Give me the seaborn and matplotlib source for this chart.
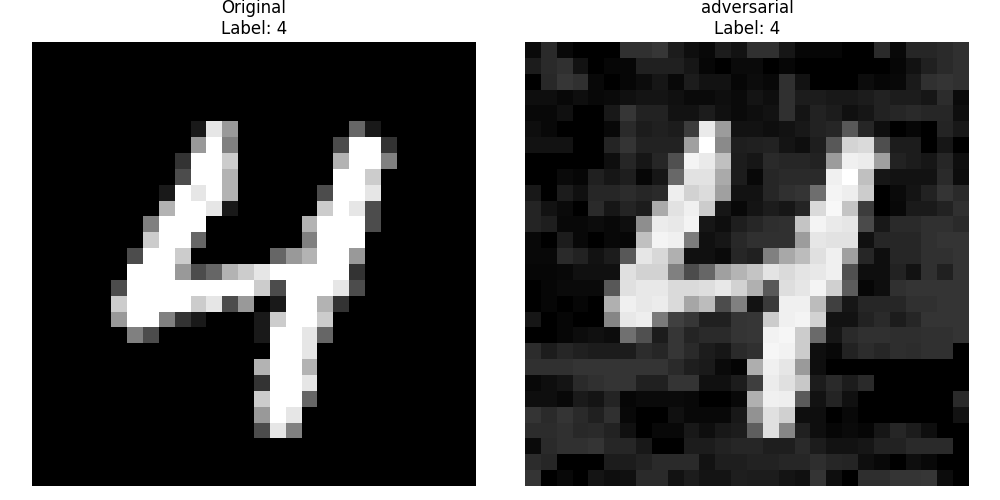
import numpy as np
import matplotlib
matplotlib.use("Agg")
import matplotlib.pyplot as plt
import seaborn as sns

# Original MNIST digit: one hex digit per pixel, intensity in tenths (a = 1.0)
original_rows = [
    "0000000000000000000000000000",
    "0000000000000000000000000000",
    "0000000000000000000000000000",
    "0000000000000000000000000000",
    "0000000000000000000000000000",
    "0000000000196000000041000000",
    "00000000006a50000003aa200000",
    "0000000002aa80000007aa500000",
    "0000000003aa7000000aa8000000",
    "000000001a9a7000003aa9000000",
    "000000007aa91000008a93000000",
    "00000005aaa0000007aaa3000000",
    "00000008aa40000005aaa0000000",
    "0000003aa800000467aa60000000",
    "000000aaa634789aaaaa20000000",
    "000003aaaaaaaa83aaa930000000",
    "000008aaaa893601aa7200000000",
    "000006aa52100018aa8000000000",
    "000000530000001aa94000000000",
    "000000000000000aa90000000000",
    "000000000000007aa70000000000",
    "000000000000002aa90000000000",
    "000000000000008aa40000000000",
    "000000000000006a900000000000",
    "0000000000000039500000000000",
    "0000000000000000000000000000",
    "0000000000000000000000000000",
    "0000000000000000000000000000",
]

# Adversarial image: displayed grey level per pixel (hex, 00-ff)
adversarial_rows = [
    "0a 2a 08 00 00 00 30 30 36 1c 0e 08 1c 12 30 30 16 06 06 06 00 00 2a 08 26 26 2a 30",
    "1c 2a 30 12 00 06 06 20 20 20 16 06 00 0a 0a 00 06 00 00 00 00 00 00 06 12 20 2a 30",
    "00 28 36 30 08 00 06 0c 16 08 1c 12 12 06 0c 08 30 12 00 00 00 0c 06 08 1a 30 34 30",
    "0e 0e 08 0e 08 0a 10 14 14 10 0a 0a 0e 0a 14 0e 30 1c 1c 18 18 1c 22 1c 1c 16 2c 0a",
    "08 08 10 00 00 18 36 22 22 12 12 1c 10 0a 0e 12 30 14 22 1c 10 16 22 26 2a 26 26 0e",
    "0e 08 00 00 00 08 2a 1c 20 1c 3c ea 9c 12 12 0e 12 18 22 26 58 26 0e 00 06 00 24 18",
    "12 12 12 00 00 24 34 22 22 22 a0 ff 8a 1e 20 22 14 0e 1e 58 d4 da 4e 1c 1c 00 16 00",
    "00 00 00 00 00 0e 26 16 26 50 f4 ea c0 1c 16 2a 26 26 22 9c f0 ec a0 22 1c 16 26 0e",
    "00 00 0a 06 20 16 1e 06 16 68 e2 e2 aa 1c 08 26 2a 2a 2a f0 ff c0 16 12 12 12 2a 0c",
    "18 00 1c 10 26 26 2c 26 2a ee d2 dc a0 12 12 26 30 34 6e f4 ee cc 00 0a 14 22 34 2a",
    "24 12 0a 00 2a 16 24 1c aa e2 f0 cc 16 08 14 1c 16 24 da f8 c4 3c 00 08 1a 1a 22 30",
    "24 1e 08 08 0c 08 0e 8e ec e8 f4 16 0e 1e 26 2e 30 c4 f4 ea e6 4a 18 2a 2a 30 30 2a",
    "08 00 1c 08 00 08 06 c0 f4 f0 7c 10 16 28 30 30 30 9c e6 e2 e2 10 26 26 26 30 34 34",
    "08 08 2a 22 12 1c 58 e6 d8 b0 10 10 0a 26 20 80 a8 bc e0 f0 a0 26 0e 26 26 30 30 34",
    "06 06 08 10 10 10 e0 d2 d2 80 4c 66 a0 b4 c4 e4 da e4 e8 f0 50 0e 0e 22 12 30 20 34",
    "00 06 0a 0a 0a 58 e0 e8 e8 da da de e8 d2 b0 58 de e6 f4 d0 5c 06 0e 30 34 34 34 34",
    "00 06 00 06 00 b0 f0 e8 ec da a6 bc 4c 80 12 3a f0 f0 bc 40 16 26 26 26 30 30 34 34",
    "16 00 06 00 00 86 e8 ee 7a 40 36 20 20 34 36 cc f0 f4 d2 12 12 22 2a 1c 26 34 34 34",
    "00 00 06 0c 10 0c 70 50 1c 36 24 2a 2a 34 36 f2 f6 cc 6a 16 2a 30 30 2e 2e 30 30 34",
    "2c 1c 26 20 1c 1c 1c 2c 26 36 2a 1c 16 2a 30 f6 f2 cc 0e 08 22 2c 26 2e 2c 30 30 00",
    "30 30 30 34 34 34 34 34 34 2a 1e 1a 0a 04 ae f0 e6 9a 0e 00 00 00 00 00 00 00 00 00",
    "08 0e 14 2a 30 34 34 20 20 34 34 10 10 1c 3e ec e0 c8 1c 2a 1c 2a 00 00 00 00 00 00",
    "0e 0e 08 1a 14 24 06 0a 0a 0a 08 00 00 08 b0 f0 ee 5a 12 24 10 00 00 00 00 00 00 2a",
    "34 2a 34 2a 20 30 08 00 00 10 08 08 08 18 92 e0 d0 0e 0e 00 08 00 00 00 00 00 00 12",
    "2c 2c 30 28 2a 22 10 00 08 08 18 0e 18 1c 5e e0 86 20 0e 06 0a 06 16 26 1c 0e 00 00",
    "0a 2a 30 30 34 26 26 18 00 00 1c 1c 22 26 26 1e 1e 2a 1c 12 12 16 22 22 2a 2a 2a 00",
    "2c 26 00 00 00 1c 1c 22 2a 2a 2a 12 1e 1e 22 22 26 26 2e 26 24 0e 08 00 0e 08 00 00",
    "34 00 08 00 14 0e 10 2a 2a 12 1c 14 14 1e 1c 1c 14 10 34 0e 00 2e 2e 34 34 36 0c 00",
]

titles = ["Original\nLabel: 4", "adversarial\nLabel: 4"]

original = np.array([[int(ch, 16) / 10.0 for ch in row] for row in original_rows])
adversarial = np.array([[int(t, 16) / 255.0 for t in row.split()] for row in adversarial_rows])

fig = plt.figure(figsize=(10, 5), dpi=100)
ax1 = fig.add_axes([32 / 1000, 14 / 500, 444 / 1000, 444 / 500])
ax2 = fig.add_axes([525 / 1000, 14 / 500, 444 / 1000, 444 / 500])

for ax, img, title in zip([ax1, ax2], [original, adversarial], titles):
    sns.heatmap(img, ax=ax, cmap="gray", vmin=0, vmax=1, cbar=False,
                xticklabels=False, yticklabels=False)
    ax.set_xlabel("")
    ax.set_ylabel("")
    ax.set_axis_off()
    ax.set_title(title, fontsize=12)

fig.savefig("out.png", dpi=100)
